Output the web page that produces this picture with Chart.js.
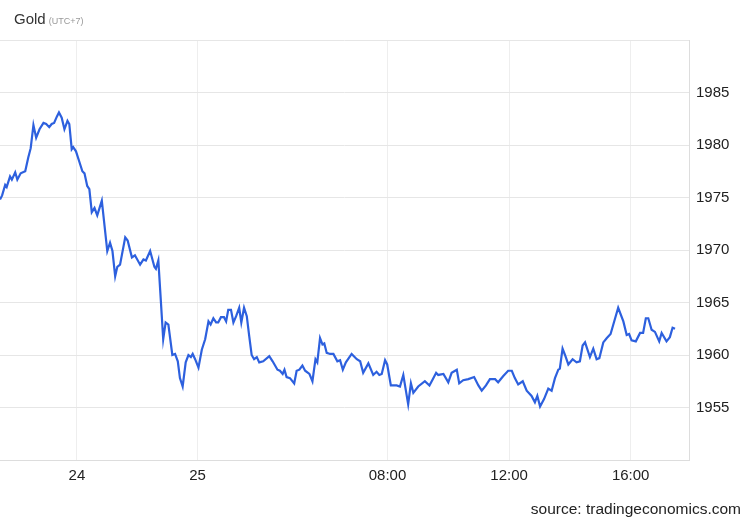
<!DOCTYPE html>
<html>
<head>
<meta charset="utf-8">
<script src="https://cdn.jsdelivr.net/npm/chart.js@4.4.1/dist/chart.umd.min.js"></script>
<style>
  html, body { margin: 0; padding: 0; background: #ffffff; }
  #wrap { width: 750px; height: 520px; position: relative; }
</style>
</head>
<body>
<div id="wrap"><canvas id="c" width="750" height="520"></canvas></div>
<script>
// ---- data (time in hours on the chart's compressed session axis, price in USD) ----
const hours = [
  -4.75,-4.68,-4.58,-4.53,-4.42,-4.36,-4.25,-4.18,-4.07,-3.92,-3.82,-3.74,-3.65,-3.56,-3.45,-3.32,-3.23,-3.13,-3.05,-2.97,
  -2.88,-2.81,-2.72,-2.63,-2.53,-2.47,-2.39,-2.34,-2.25,-2.15,-2.04,-1.97,-1.88,-1.81,-1.73,-1.64,-1.55,-1.40,-1.22,-1.13,
  -1.05,-0.96,-0.89,-0.80,-0.63,-0.55,-0.41,-0.31,-0.14,-0.03,0.05,0.19,0.33,0.38,0.46,0.52,0.62,0.70,0.79,0.92,
  1.01,1.10,1.17,1.26,1.36,1.45,1.53,1.59,1.67,1.78,1.89,2.00,2.11,2.18,2.27,2.36,2.43,2.52,2.62,2.69,
  2.76,2.85,2.93,3.02,3.12,3.19,3.28,3.37,3.45,3.53,3.61,3.70,3.78,3.91,4.11,4.22,4.38,4.46,4.55,4.61,
  4.68,4.79,4.93,5.01,5.10,5.20,5.29,5.43,5.53,5.63,5.69,5.78,5.86,5.92,6.00,6.11,6.22,6.35,6.44,6.53,
  6.63,6.82,6.99,7.10,7.20,7.37,7.53,7.64,7.73,7.81,7.92,7.99,8.11,8.30,8.41,8.52,8.68,8.77,8.85,9.01,
  9.23,9.38,9.49,9.60,9.67,9.84,10.00,10.11,10.28,10.36,10.49,10.66,10.85,10.99,11.10,11.24,11.37,11.54,11.64,11.81,
  11.97,12.09,12.19,12.30,12.45,12.58,12.74,12.85,12.93,13.02,13.15,13.29,13.40,13.51,13.62,13.67,13.76,13.84,13.95,14.09,
  14.22,14.33,14.42,14.50,14.66,14.77,14.88,14.97,15.10,15.21,15.34,15.48,15.59,15.76,15.87,15.95,16.03,16.17,16.31,16.41,
  16.50,16.58,16.69,16.80,16.94,17.02,17.18,17.29,17.38,17.46
];
const prices = [
  1974.8,1975.2,1976.2,1976.0,1977.0,1976.7,1977.4,1976.7,1977.3,1977.5,1978.8,1979.7,1981.9,1980.7,1981.5,1982.1,1982.0,1981.7,1982.0,1982.1,
  1982.7,1983.1,1982.6,1981.5,1982.3,1982.0,1979.6,1979.8,1979.4,1978.5,1977.5,1977.3,1976.1,1975.8,1973.6,1974.0,1973.3,1974.7,1969.9,1970.7,
  1969.9,1967.5,1968.4,1968.6,1971.2,1970.9,1969.3,1969.5,1968.6,1969.1,1969.0,1969.9,1968.4,1968.2,1969.0,1966.2,1961.5,1963.1,1962.9,1960.0,
  1960.1,1959.4,1957.8,1957.0,1959.3,1960.0,1959.8,1960.1,1959.6,1958.8,1960.5,1961.5,1963.2,1962.9,1963.5,1963.1,1963.1,1963.6,1963.6,1963.2,
  1964.3,1964.3,1963.1,1963.7,1964.5,1963.1,1964.5,1963.7,1961.8,1960.0,1959.6,1959.8,1959.3,1959.4,1959.9,1959.4,1958.6,1958.5,1958.2,1958.6,
  1957.9,1957.8,1957.3,1958.5,1958.6,1959.0,1958.5,1958.2,1957.5,1959.6,1959.3,1961.6,1961.0,1961.1,1960.2,1960.1,1960.1,1959.4,1959.5,1958.6,
  1959.3,1960.1,1959.6,1959.4,1958.3,1959.2,1958.1,1958.4,1958.1,1958.2,1959.5,1959.1,1957.1,1957.1,1957.0,1958.1,1955.3,1957.3,1956.4,1957.0,
  1957.5,1957.1,1957.7,1958.3,1958.1,1958.2,1957.4,1958.3,1958.6,1957.3,1957.6,1957.7,1957.9,1957.1,1956.6,1957.1,1957.7,1957.7,1957.4,1958.0,
  1958.5,1958.5,1957.8,1957.2,1957.5,1956.6,1956.1,1955.5,1956.1,1955.1,1955.8,1956.8,1956.6,1957.8,1958.6,1958.7,1960.6,1960.0,1959.1,1959.6,
  1959.3,1959.4,1960.9,1961.2,1959.8,1960.6,1959.6,1959.7,1961.2,1961.6,1962.0,1963.4,1964.5,1963.2,1961.9,1962.0,1961.4,1961.3,1962.1,1962.1,
  1963.5,1963.5,1962.4,1962.2,1961.3,1962.1,1961.3,1961.7,1962.6,1962.5
];
const tickHours  = [-2.22, 1.75, 8, 12, 16];
const tickLabels = ['24', '25', '08:00', '12:00', '16:00'];
const xMin = -4.75, xMax = 17.92;
const yMin = 1950, yMax = 1990, yStep = 5;

const titleText = 'Gold';
const titleNote = '(UTC+7)';
const sourceText = 'source: tradingeconomics.com';

const FONT = 'Arial, "Liberation Sans", sans-serif';
Chart.defaults.font.family = FONT;

const headerPlugin = {
  id: 'header',
  afterDraw(chart) {
    const ctx = chart.ctx;
    ctx.save();
    ctx.textBaseline = 'alphabetic';
    ctx.textAlign = 'left';
    ctx.fillStyle = '#333333';
    ctx.font = '15px ' + FONT;
    ctx.fillText(titleText, 14, 24);
    const w = ctx.measureText(titleText).width;
    ctx.fillStyle = '#999999';
    ctx.font = '9px ' + FONT;
    ctx.fillText(titleNote, 14 + w + 3, 24);
    ctx.fillStyle = '#222222';
    ctx.font = '15.5px ' + FONT;
    ctx.textAlign = 'right';
    ctx.fillText(sourceText, 741, 514);
    ctx.restore();
  }
};

new Chart(document.getElementById('c'), {
  type: 'line',
  data: {
    datasets: [{
      data: hours.map((h, i) => ({ x: h, y: prices[i] })),
      borderColor: '#2d60de',
      borderWidth: 2.2,
      pointRadius: 0,
      tension: 0,
      fill: false
    }]
  },
  options: {
    responsive: false,
    animation: false,
    parsing: false,
    layout: { padding: { left: 0, top: 40, right: 0, bottom: 0 } },
    plugins: { legend: { display: false }, tooltip: { enabled: false } },
    scales: {
      x: {
        type: 'linear',
        min: xMin,
        max: xMax,
        afterBuildTicks: (scale) => { scale.ticks = tickHours.map(v => ({ value: v })); },
        afterFit: (scale) => { scale.height = 60; },
        grid: { color: '#eeeeee', drawTicks: false },
        border: { display: true, color: '#dddddd' },
        ticks: {
          autoSkip: false,
          maxRotation: 0,
          padding: 7,
          color: '#222222',
          font: { size: 15 },
          callback: (v, i) => tickLabels[i]
        }
      },
      y: {
        position: 'right',
        min: yMin,
        max: yMax,
        afterFit: (scale) => { scale.width = 61; },
        grid: { color: '#e6e6e6', drawTicks: false },
        border: { display: true, color: '#dddddd' },
        ticks: {
          stepSize: yStep,
          padding: 7,
          color: '#222222',
          font: { size: 15 },
          callback: (v) => (v === yMin || v === yMax) ? '' : String(v)
        }
      }
    }
  },
  plugins: [headerPlugin]
});
</script>
</body>
</html>
